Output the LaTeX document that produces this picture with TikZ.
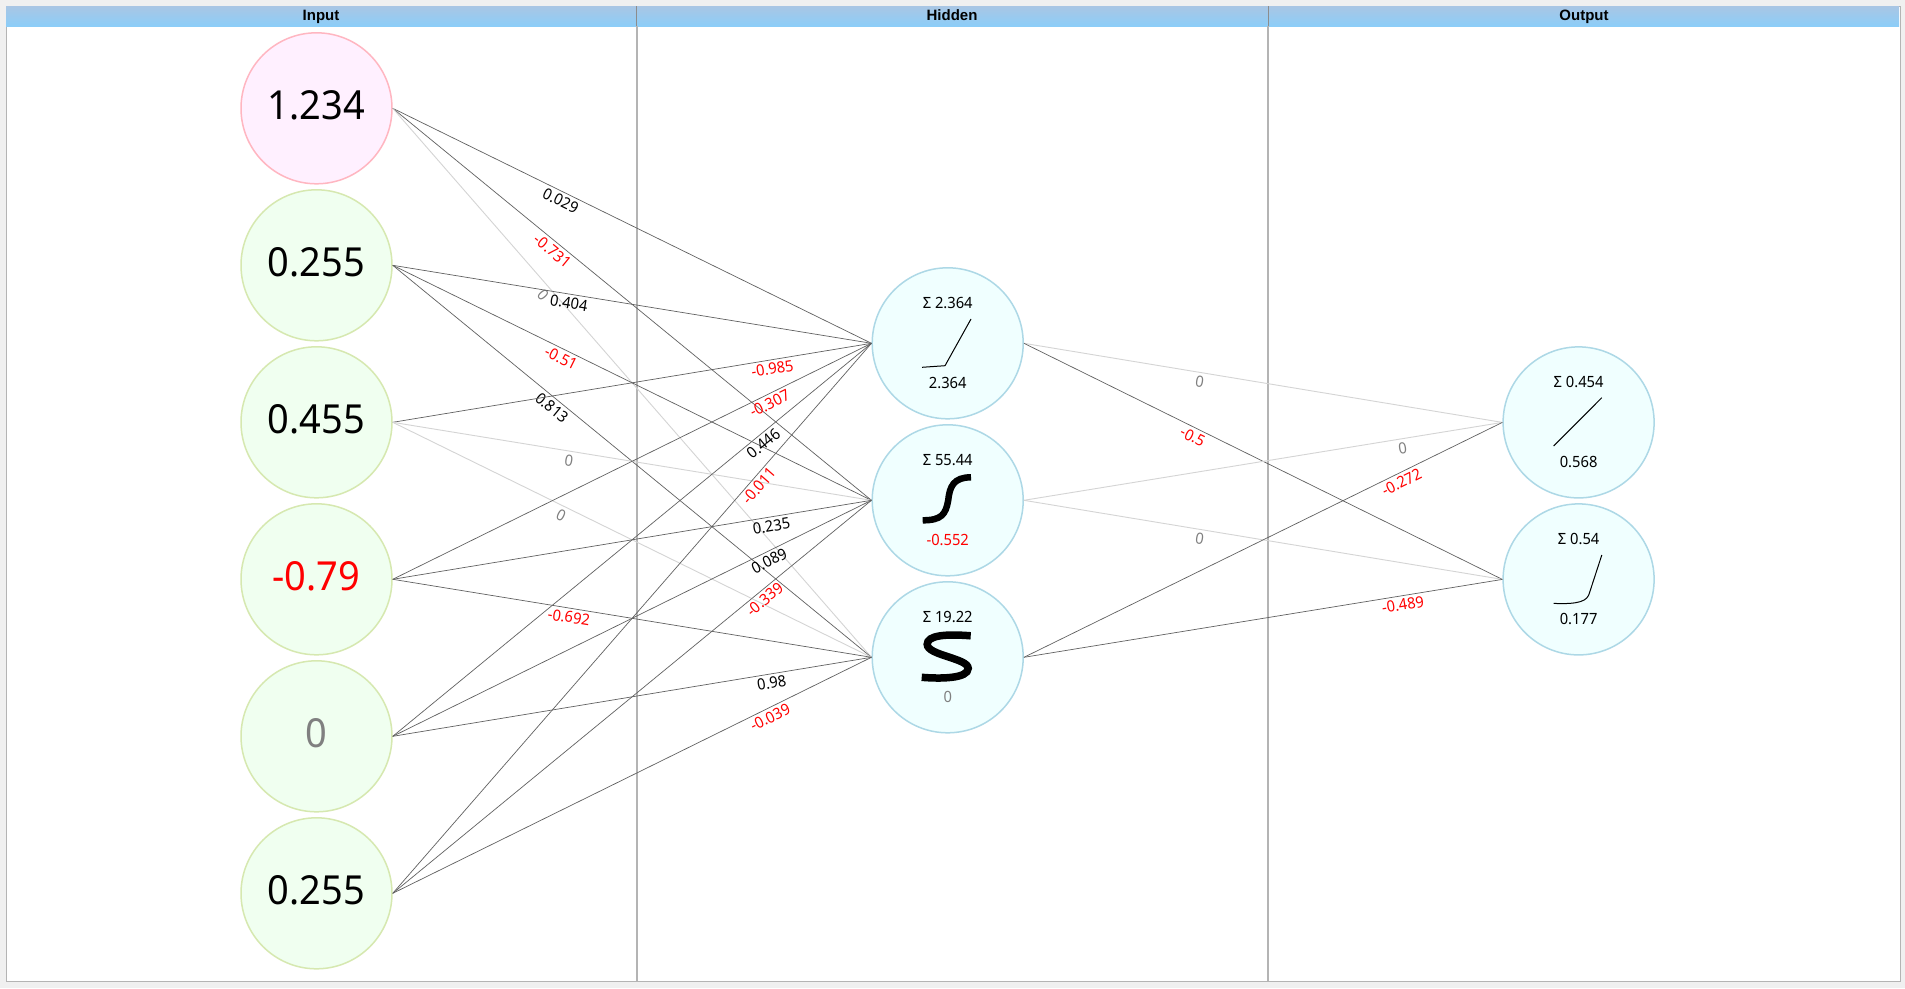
\documentclass[tikz,border=0pt]{standalone}
\usepackage{fontspec}
\setmainfont[FakeStretch=0.95]{Noto Sans}
\newfontfamily\headfont{Liberation Sans}
\usetikzlibrary{positioning}
\definecolor{pagegrey}{HTML}{F0F0F0}
\definecolor{headtop}{HTML}{A9C6E4}
\definecolor{headbottom}{HTML}{8CCDF8}
\definecolor{rulegrey}{HTML}{B4B4B4}
\definecolor{zerogrey}{HTML}{808080}
\definecolor{pinkfill}{HTML}{FFF0FF}
\definecolor{pinkline}{HTML}{FFB6C1}
\definecolor{greenfill}{HTML}{F0FFF0}
\definecolor{greenline}{HTML}{D6E8B0}
\definecolor{bluefill}{HTML}{F0FFFF}
\definecolor{blueline}{HTML}{ADD8E6}
\tikzset{
  neuron/.style={circle,minimum size=151pt,inner sep=0pt,line width=1.5pt},
  bigtext/.style={font=\fontsize{40}{46}\selectfont,text depth=10pt,text height=32pt},
  pinknode/.style={neuron,draw=pinkline,fill=pinkfill,bigtext},
  greennode/.style={neuron,draw=greenline,fill=greenfill,bigtext},
  bluenode/.style={neuron,draw=blueline,fill=bluefill},
  smalltext/.style={inner sep=0pt,font=\fontsize{15.5}{18}\selectfont},
  sumtext/.style={smalltext,yshift=40.6pt},
  valtext/.style={smalltext,yshift=-39.4pt},
  conn/.style={draw=black!62,line width=0.7pt},
  zeroconn/.style={draw=black!17,line width=0.9pt},
  weight/.style={sloped,below=3pt,inner sep=0pt,font=\fontsize{15.5}{18}\selectfont},
  redw/.style={weight,text=red},
  blackw/.style={weight,text=black},
  zerow/.style={weight,text=zerogrey},
  head/.style={minimum width=630pt,minimum height=20pt,inner sep=0pt,text height=11pt,text depth=3pt,top color=headtop,bottom color=headbottom,font=\headfont\bfseries\fontsize{15}{18}\selectfont},
  divider/.style={draw=rulegrey,line width=2pt},
  curve/.style={draw=black,line width=1pt},
}
\begin{document}
\begin{tikzpicture}[x=1pt,y=-1pt]
      \useasboundingbox (0,0) rectangle (1905,988);
      \fill[pagegrey] (0,0) rectangle (1905,988);
      \draw[fill=white,draw=rulegrey,line width=1pt] (6,6) rectangle (1900,981.5);
      % headers
      \node[head] (inhead) at (321,16) {Input};
      \node[head,minimum width=632pt] (hidhead) at (952,16) {Hidden};
      \node[head] (outhead) at (1584,16) {Output};
      \coordinate (d1) at (637,981);
      \coordinate (d2) at (1268,981);
      \draw[divider] (637,26) -- (d1);
      \draw[divider] (1268,26) -- (d2);
      \draw[draw=black!45,line width=0.6pt] (636.5,6) -- (636.5,26);
      \draw[draw=black!45,line width=0.6pt] (1268,6) -- (1268,26);
      % input layer
      \node[pinknode] (i1) at (316.5,108.3) {1.234};
      \node[greennode] (i2) at (316.5,265.3) {0.255};
      \node[greennode] (i3) at (316.5,422.3) {0.455};
      \node[greennode,text=red] (i4) at (316.5,579.3) {-0.79};
      \node[greennode,text=zerogrey] (i5) at (316.5,736.3) {0};
      \node[greennode] (i6) at (316.5,893.3) {0.255};
      % hidden layer
      \node[bluenode] (h1) at (947.7,343.3) {};
      \node[bluenode] (h2) at (947.7,500.3) {};
      \node[bluenode] (h3) at (947.7,657.3) {};
      \node[sumtext] (h1sum) at (h1) {Σ 2.364};
      \node[valtext] (h1val) at (h1) {2.364};
      \node[sumtext] (h2sum) at (h2) {Σ 55.44};
      \node[valtext,text=red] (h2val) at (h2) {-0.552};
      \node[sumtext] (h3sum) at (h3) {Σ 19.22};
      \node[valtext,text=zerogrey] (h3val) at (h3) {0};
      % output layer
      \node[bluenode] (o1) at (1578.6,422.4) {};
      \node[bluenode] (o2) at (1578.6,579.4) {};
      \node[sumtext] (o1sum) at (o1) {Σ 0.454};
      \node[valtext] (o1val) at (o1) {0.568};
      \node[sumtext] (o2sum) at (o2) {Σ 0.54};
      \node[valtext] (o2val) at (o2) {0.177};
      % activation curves
      \draw[curve,shift={(h1.center)}] (-25.7,24) -- (-2.7,22.4) -- (23.3,-24.3);
      \draw[curve,line width=6.5pt,shift={(h2.center)}] (-25,20) .. controls (-6,20) and (-2,14) .. (0.5,0) .. controls (2,-14) and (6,-23) .. (23.3,-23);
      \draw[curve,line width=7.5pt,shift={(h3.center)}] (-26,20) .. controls (-8,21.5) and (20.5,21.5) .. (20.5,11) .. controls (20.5,1) and (-20.5,-2) .. (-20.5,-13) .. controls (-20.5,-22) and (-2,-23.5) .. (23,-21.5);
      \draw[curve,shift={(o1.center)}] (-25,23.6) -- (23.2,-24.7);
      \draw[curve,shift={(o2.center)}] (-25,24) .. controls (0,25) and (9,22) .. (11,13) -- (23.2,-24.4);
      % input to hidden
      \draw[conn] (i1.east) -- node[blackw,pos=.359] (w11) {0.029} (h1.west);
      \draw[conn] (i1.east) -- node[redw,pos=.3465] (w12) {-0.731} (h2.west);
      \draw[zeroconn] (i1.east) -- node[zerow,pos=.329] (w13) {0} (h3.west);
      \draw[conn] (i2.east) -- node[blackw,pos=.371] (w21) {0.404} (h1.west);
      \draw[conn] (i2.east) -- node[redw,pos=.36] (w22) {-0.51} (h2.west);
      \draw[conn] (i2.east) -- node[blackw,pos=.3455] (w23) {0.813} (h3.west);
      \draw[conn] (i3.east) -- node[redw,pos=.79] (w31) {-0.985} (h1.west);
      \draw[zeroconn] (i3.east) -- node[zerow,pos=.371] (w32) {0} (h2.west);
      \draw[zeroconn] (i3.east) -- node[zerow,pos=.36] (w33) {0} (h3.west);
      \draw[conn] (i4.east) -- node[redw,pos=.779] (w41) {-0.307} (h1.west);
      \draw[conn] (i4.east) -- node[blackw,pos=.788] (w42) {0.235} (h2.west);
      \draw[conn] (i4.east) -- node[redw,pos=.371] (w43) {-0.692} (h3.west);
      \draw[conn] (i5.east) -- node[blackw,pos=.763] (w51) {0.446} (h1.west);
      \draw[conn] (i5.east) -- node[blackw,pos=.778] (w52) {0.089} (h2.west);
      \draw[conn] (i5.east) -- node[blackw,pos=.7886] (w53) {0.98} (h3.west);
      \draw[conn] (i6.east) -- node[redw,pos=.7517] (w61) {-0.011} (h1.west);
      \draw[conn] (i6.east) -- node[redw,pos=.7655] (w62) {-0.339} (h2.west);
      \draw[conn] (i6.east) -- node[redw,pos=.78] (w63) {-0.039} (h3.west);
      % hidden to output
      \draw[zeroconn] (h1.east) -- node[zerow,pos=.3705] (v11) {0} (o1.west);
      \draw[conn] (h1.east) -- node[redw,pos=.361] (v12) {-0.5} (o2.west);
      \draw[zeroconn] (h2.east) -- node[zerow,pos=.7886] (v21) {0} (o1.west);
      \draw[zeroconn] (h2.east) -- node[zerow,pos=.3705] (v22) {0} (o2.west);
      \draw[conn] (h3.east) -- node[redw,pos=.781] (v31) {-0.272} (o1.west);
      \draw[conn] (h3.east) -- node[redw,pos=.789] (v32) {-0.489} (o2.west);
\end{tikzpicture}
\end{document}
